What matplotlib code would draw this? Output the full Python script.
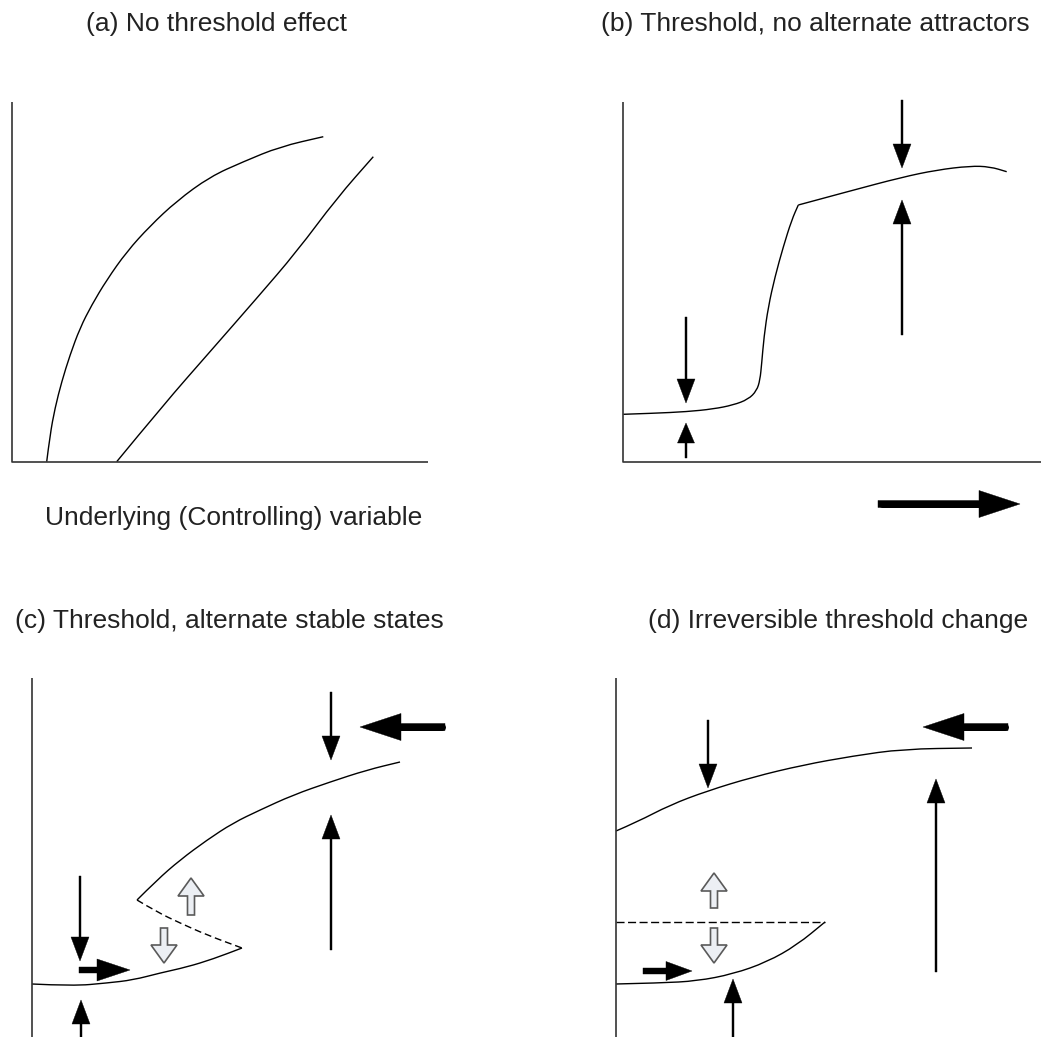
import matplotlib
matplotlib.use("Agg")
import matplotlib.pyplot as plt
from matplotlib.patches import FancyArrow, PathPatch
from matplotlib.path import Path

# ---------------- data (pixel space) ----------------
titles = ["(a) No threshold effect",
          "(b) Threshold, no alternate attractors",
          "(c) Threshold, alternate stable states",
          "(d) Irreversible threshold change"]
title_x = [217, 815, 229, 838]
title_y = [24, 24, 621, 621]
xlabel_text = "Underlying (Controlling) variable"

# panel (a)
a_curve1_x = [46.7, 50, 55, 61.7, 70, 80, 91.7, 106.7, 126.7, 150, 176.7, 210, 243.3, 280, 323.3]
a_curve1_y = [461.7, 435, 408, 381.7, 355, 328, 305, 280, 251.7, 226, 201, 176.7, 161.7, 146.7, 136.7]
a_curve2_x = [116.7, 163.3, 210, 256.7, 296.7, 336.7, 373.3]
a_curve2_y = [461.7, 405, 351.7, 298.3, 251.7, 198.3, 156.7]

# panel (b): rising branch up to the corner, then the upper plateau
b_rise_x = [623.3, 653.3, 686.7, 713.3, 733.3, 748.3, 756.7, 760, 761.7, 764, 768.3, 775, 783.3, 791.7, 798.3]
b_rise_y = [414.3, 413.3, 411.7, 409, 405, 399.3, 390.7, 380, 363.3, 336.7, 306.7, 276.7, 246.7, 220, 205]
b_top_x = [798.3, 850, 901.7, 936.7, 970, 990, 1006.7]
b_top_y = [205, 191, 177.3, 170, 166, 166.7, 171.7]

# panel (c)
c_low_x = [32, 73, 107, 133, 160, 187, 213, 242]
c_low_y = [984, 986, 983, 980, 973, 967, 959, 948]
c_dash_x = [137, 157, 180, 207, 242]
c_dash_y = [900, 912, 923, 935, 948]
c_up_x = [137, 157, 180, 207, 233, 260, 293, 330, 367, 400]
c_up_y = [900, 880, 860, 840, 823, 810, 795, 782, 770, 762]

# panel (d)
d_up_x = [616, 637, 670, 707, 753, 803, 853, 903, 972]
d_up_y = [831, 822, 805, 791, 777, 765, 756, 749, 748]
d_low_x = [616, 660, 697, 733, 767, 797, 825]
d_low_y = [984, 983, 981, 974, 962, 945, 922]
d_dash_x = [616, 825]
d_dash_y = [922, 922]

# axis frames
axes_frames = [
    ([12, 12, 428], [102, 462, 462]),
    ([623, 623, 1041], [102, 462, 462]),
    ([32, 32], [678, 1037]),
    ([616, 616], [678, 1037]),
]

# arrows: (x_start, y_start, x_tip, y_tip, kind)
arrows = [
    # (b)
    (686, 317, 686, 403, "thin"),
    (686, 458, 686, 423, "thin_s"),
    (902, 100, 902, 168, "thin"),
    (902, 335, 902, 200, "thin"),
    (878, 504, 1020, 504, "push_big"),
    # (c)
    (80, 876, 80, 961, "thin"),
    (81, 1037, 81, 1000, "thin"),
    (79, 970, 130, 970, "push_c"),
    (191, 915, 191, 878, "hollow"),
    (164, 928, 164, 963, "hollow"),
    (331, 692, 331, 760, "thin"),
    (331, 950, 331, 815, "thin"),
    (445, 727, 360, 727, "push_big"),
    # (d)
    (708, 720, 708, 788, "thin"),
    (1008, 727, 923, 727, "push_big"),
    (936, 972, 936, 779, "thin"),
    (714, 908, 714, 873, "hollow"),
    (714, 928, 714, 963, "hollow"),
    (643, 971, 692, 971, "push_d"),
    (733, 1037, 733, 979, "thin"),
]

arrow_styles = {
    "thin":     dict(width=2.0, head_width=18, head_length=24, fc="black", ec="black", lw=0.3, round_tail=False),
    "thin_s":   dict(width=2.0, head_width=17, head_length=20, fc="black", ec="black", lw=0.3, round_tail=False),
    "push_big": dict(width=7.0, head_width=27, head_length=41, fc="black", ec="black", lw=0.3, round_tail=True),
    "push_c":   dict(width=6.0, head_width=22, head_length=33, fc="black", ec="black", lw=0.3, round_tail=True),
    "push_d":   dict(width=6.0, head_width=19, head_length=26, fc="black", ec="black", lw=0.3, round_tail=True),
    "hollow":   dict(width=7.0, head_width=26, head_length=18, fc="#eceff4", ec="#5a5a5a", lw=1.2, round_tail=False),
}

# ---------------- drawing ----------------
W, H = 1041, 1037
fig = plt.figure(figsize=(W / 100, H / 100), dpi=100)
ax = fig.add_axes([0, 0, 1, 1])
ax.set_xlim(0, W)
ax.set_ylim(H, 0)
ax.axis("off")


def smooth(xs, ys, **kw):
    """Draw a curve through the read points, corners rounded with quadratic Beziers."""
    pts = list(zip(xs, ys))
    verts, codes = [pts[0]], [Path.MOVETO]
    for i in range(1, len(pts) - 1):
        mid = ((pts[i][0] + pts[i + 1][0]) / 2, (pts[i][1] + pts[i + 1][1]) / 2)
        verts += [pts[i], mid]
        codes += [Path.CURVE3, Path.CURVE3]
    verts.append(pts[-1])
    codes.append(Path.LINETO)
    ax.add_patch(PathPatch(Path(verts, codes), fill=False, **kw))


font = ["Liberation Sans", "DejaVu Sans"]
for t, x, y in zip(titles, title_x, title_y):
    ax.text(x, y, t, ha="center", va="center", fontsize=19, color="#222222", family=font)
ax.text(234, 518, xlabel_text, ha="center", va="center", fontsize=19, color="#222222", family=font)

for xs, ys in axes_frames:
    ax.plot(xs, ys, color="#333333", lw=1.2, solid_capstyle="butt")

curve_kw = dict(edgecolor="black", lw=1.0, joinstyle="round", capstyle="butt")
smooth(a_curve1_x, a_curve1_y, **curve_kw)
smooth(a_curve2_x, a_curve2_y, **curve_kw)
smooth(b_rise_x, b_rise_y, **curve_kw)
smooth(b_top_x, b_top_y, **curve_kw)
smooth(c_low_x, c_low_y, **curve_kw)
smooth(c_up_x, c_up_y, **curve_kw)
smooth(c_dash_x, c_dash_y, edgecolor="black", lw=1.0, linestyle=(0, (5, 2.8)))
smooth(d_up_x, d_up_y, **curve_kw)
smooth(d_low_x, d_low_y, **curve_kw)
smooth(d_dash_x, d_dash_y, edgecolor="black", lw=1.0, linestyle=(0, (5.8, 2.5)))

for x0, y0, x1, y1, kind in arrows:
    st = dict(arrow_styles[kind])
    fc, ec, lw = st.pop("fc"), st.pop("ec"), st.pop("lw")
    round_tail = st.pop("round_tail")
    dx, dy = x1 - x0, y1 - y0
    if round_tail:
        # shaft as a round-capped stroke, head drawn by FancyArrow
        L = (dx ** 2 + dy ** 2) ** 0.5
        ux, uy = dx / L, dy / L
        r = st["width"] / 2
        hb = L - st["head_length"]
        ax.plot([x0 + ux * r, x0 + ux * hb], [y0 + uy * r, y0 + uy * hb],
                color=fc, lw=st["width"] * 0.72, solid_capstyle="round")
    ax.add_patch(FancyArrow(x0, y0, dx, dy, length_includes_head=True,
                            facecolor=fc, edgecolor=ec, linewidth=lw,
                            joinstyle="miter", **st))

fig.savefig("out.png", dpi=100)
